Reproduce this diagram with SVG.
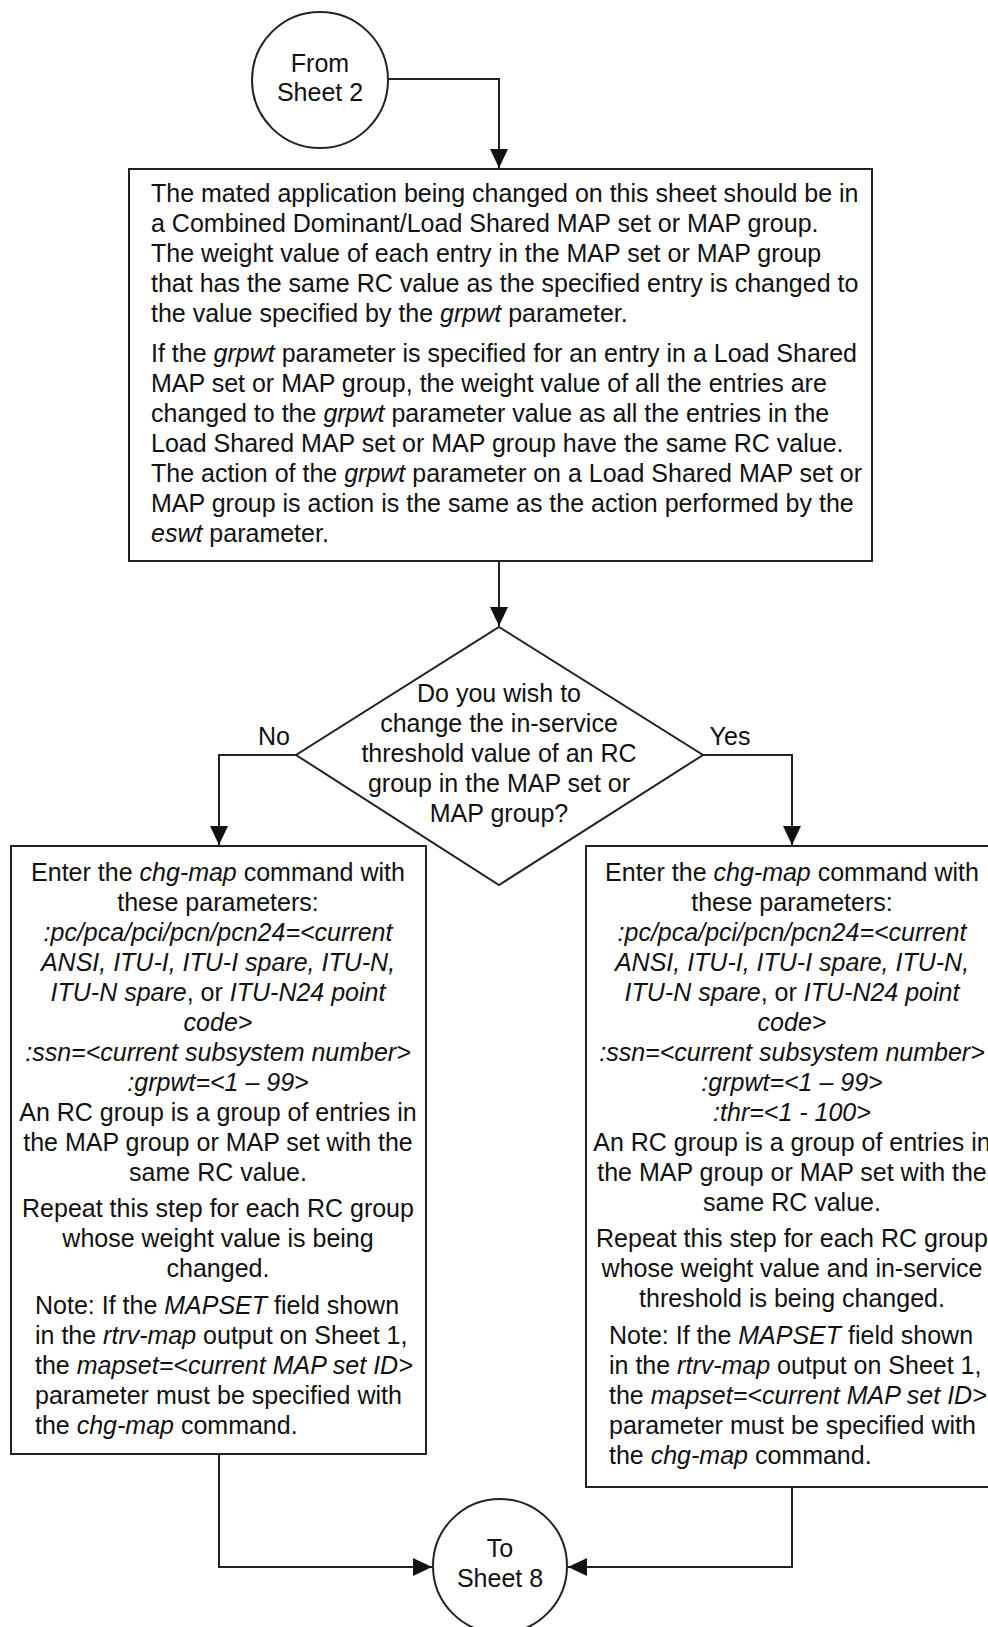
<svg xmlns="http://www.w3.org/2000/svg" width="988" height="1627" viewBox="0 0 988 1627">
<style>
text{font-family:"Liberation Sans",Arial,sans-serif;font-size:25px;fill:#111}
.c{text-anchor:middle}
.i{font-style:italic}
.shape{fill:#fff;stroke:#222;stroke-width:2}
.ln{fill:none;stroke:#222;stroke-width:2}
</style>
<defs>
<marker id="ah" markerWidth="19" markerHeight="18" refX="19" refY="9" orient="auto" markerUnits="userSpaceOnUse">
<path d="M0,0 L19,9 L0,18 Z" fill="#111"/>
</marker>
</defs>
<g id="connectors">
<path class="ln" d="M388,79 H499 V168" marker-end="url(#ah)"/>
<path class="ln" d="M499,561 V626" marker-end="url(#ah)"/>
<path class="ln" d="M296,755 H219 V845" marker-end="url(#ah)"/>
<path class="ln" d="M703,755 H792 V845" marker-end="url(#ah)"/>
<path class="ln" d="M219,1454 V1567 H432" marker-end="url(#ah)"/>
<path class="ln" d="M792,1487 V1567 H568" marker-end="url(#ah)"/>
<text class="c" x="274" y="745">No</text>
<text class="c" x="730" y="745">Yes</text>
</g>
<g id="from-sheet-2">
<circle class="shape" cx="320" cy="80" r="68"/>
<text class="c" x="320" y="72">From</text>
<text class="c" x="320" y="101">Sheet 2</text>
</g>
<g id="info-box">
<rect class="shape" x="129" y="169" width="743" height="392"/>
<text x="151" y="202">The mated application being changed on this sheet should be in</text>
<text x="151" y="232">a Combined Dominant/Load Shared MAP set or MAP group.</text>
<text x="151" y="262">The weight value of each entry in the MAP set or MAP group</text>
<text x="151" y="292">that has the same RC value as the specified entry is changed to</text>
<text x="151" y="322">the value specified by the <tspan class="i">grpwt</tspan> parameter.</text>
<text x="151" y="362">If the <tspan class="i">grpwt</tspan> parameter is specified for an entry in a Load Shared</text>
<text x="151" y="392">MAP set or MAP group, the weight value of all the entries are</text>
<text x="151" y="422">changed to the <tspan class="i">grpwt</tspan> parameter value as all the entries in the</text>
<text x="151" y="452">Load Shared MAP set or MAP group have the same RC value.</text>
<text x="151" y="482">The action of the <tspan class="i">grpwt</tspan> parameter on a Load Shared MAP set or</text>
<text x="151" y="512">MAP group is action is the same as the action performed by the</text>
<text x="151" y="542"><tspan class="i">eswt</tspan> parameter.</text>
</g>
<g id="decision">
<polygon class="shape" points="499,627 703,755 499,885 296,755"/>
<text class="c" x="499" y="702">Do you wish to</text>
<text class="c" x="499" y="732">change the in-service</text>
<text class="c" x="499" y="762">threshold value of an RC</text>
<text class="c" x="499" y="792">group in the MAP set or</text>
<text class="c" x="499" y="822">MAP group?</text>
</g>
<g id="no-box">
<rect class="shape" x="11" y="846" width="415" height="608"/>
<text class="c" x="218" y="881">Enter the <tspan class="i">chg-map</tspan> command with</text>
<text class="c" x="218" y="911">these parameters:</text>
<text class="c i" x="218" y="941">:pc/pca/pci/pcn/pcn24=&lt;current</text>
<text class="c i" x="218" y="971">ANSI, ITU-I, ITU-I spare, ITU-N,</text>
<text class="c" x="218" y="1001"><tspan class="i">ITU-N spare</tspan>, or <tspan class="i">ITU-N24 point</tspan></text>
<text class="c i" x="218" y="1031">code&gt;</text>
<text class="c i" x="218" y="1061">:ssn=&lt;current subsystem number&gt;</text>
<text class="c i" x="218" y="1091">:grpwt=&lt;1 – 99&gt;</text>
<text class="c" x="218" y="1121">An RC group is a group of entries in</text>
<text class="c" x="218" y="1151">the MAP group or MAP set with the</text>
<text class="c" x="218" y="1181">same RC value.</text>
<text class="c" x="218" y="1217">Repeat this step for each RC group</text>
<text class="c" x="218" y="1247">whose weight value is being</text>
<text class="c" x="218" y="1277">changed.</text>
<text x="35" y="1314">Note: If the <tspan class="i">MAPSET</tspan> field shown</text>
<text x="35" y="1344">in the <tspan class="i">rtrv-map</tspan> output on Sheet 1,</text>
<text x="35" y="1374">the <tspan class="i">mapset=&lt;current MAP set ID&gt;</tspan></text>
<text x="35" y="1404">parameter must be specified with</text>
<text x="35" y="1434">the <tspan class="i">chg-map</tspan> command.</text>
</g>
<g id="yes-box">
<rect class="shape" x="586" y="846" width="413" height="641"/>
<text class="c" x="792" y="881">Enter the <tspan class="i">chg-map</tspan> command with</text>
<text class="c" x="792" y="911">these parameters:</text>
<text class="c i" x="792" y="941">:pc/pca/pci/pcn/pcn24=&lt;current</text>
<text class="c i" x="792" y="971">ANSI, ITU-I, ITU-I spare, ITU-N,</text>
<text class="c" x="792" y="1001"><tspan class="i">ITU-N spare</tspan>, or <tspan class="i">ITU-N24 point</tspan></text>
<text class="c i" x="792" y="1031">code&gt;</text>
<text class="c i" x="792" y="1061">:ssn=&lt;current subsystem number&gt;</text>
<text class="c i" x="792" y="1091">:grpwt=&lt;1 – 99&gt;</text>
<text class="c i" x="792" y="1121">:thr=&lt;1 - 100&gt;</text>
<text class="c" x="792" y="1151">An RC group is a group of entries in</text>
<text class="c" x="792" y="1181">the MAP group or MAP set with the</text>
<text class="c" x="792" y="1211">same RC value.</text>
<text class="c" x="792" y="1247">Repeat this step for each RC group</text>
<text class="c" x="792" y="1277">whose weight value and in-service</text>
<text class="c" x="792" y="1307">threshold is being changed.</text>
<text x="609" y="1344">Note: If the <tspan class="i">MAPSET</tspan> field shown</text>
<text x="609" y="1374">in the <tspan class="i">rtrv-map</tspan> output on Sheet 1,</text>
<text x="609" y="1404">the <tspan class="i">mapset=&lt;current MAP set ID&gt;</tspan></text>
<text x="609" y="1434">parameter must be specified with</text>
<text x="609" y="1464">the <tspan class="i">chg-map</tspan> command.</text>
</g>
<g id="to-sheet-8">
<circle class="shape" cx="500" cy="1566" r="67"/>
<text class="c" x="500" y="1557">To</text>
<text class="c" x="500" y="1587">Sheet 8</text>
</g>
</svg>
